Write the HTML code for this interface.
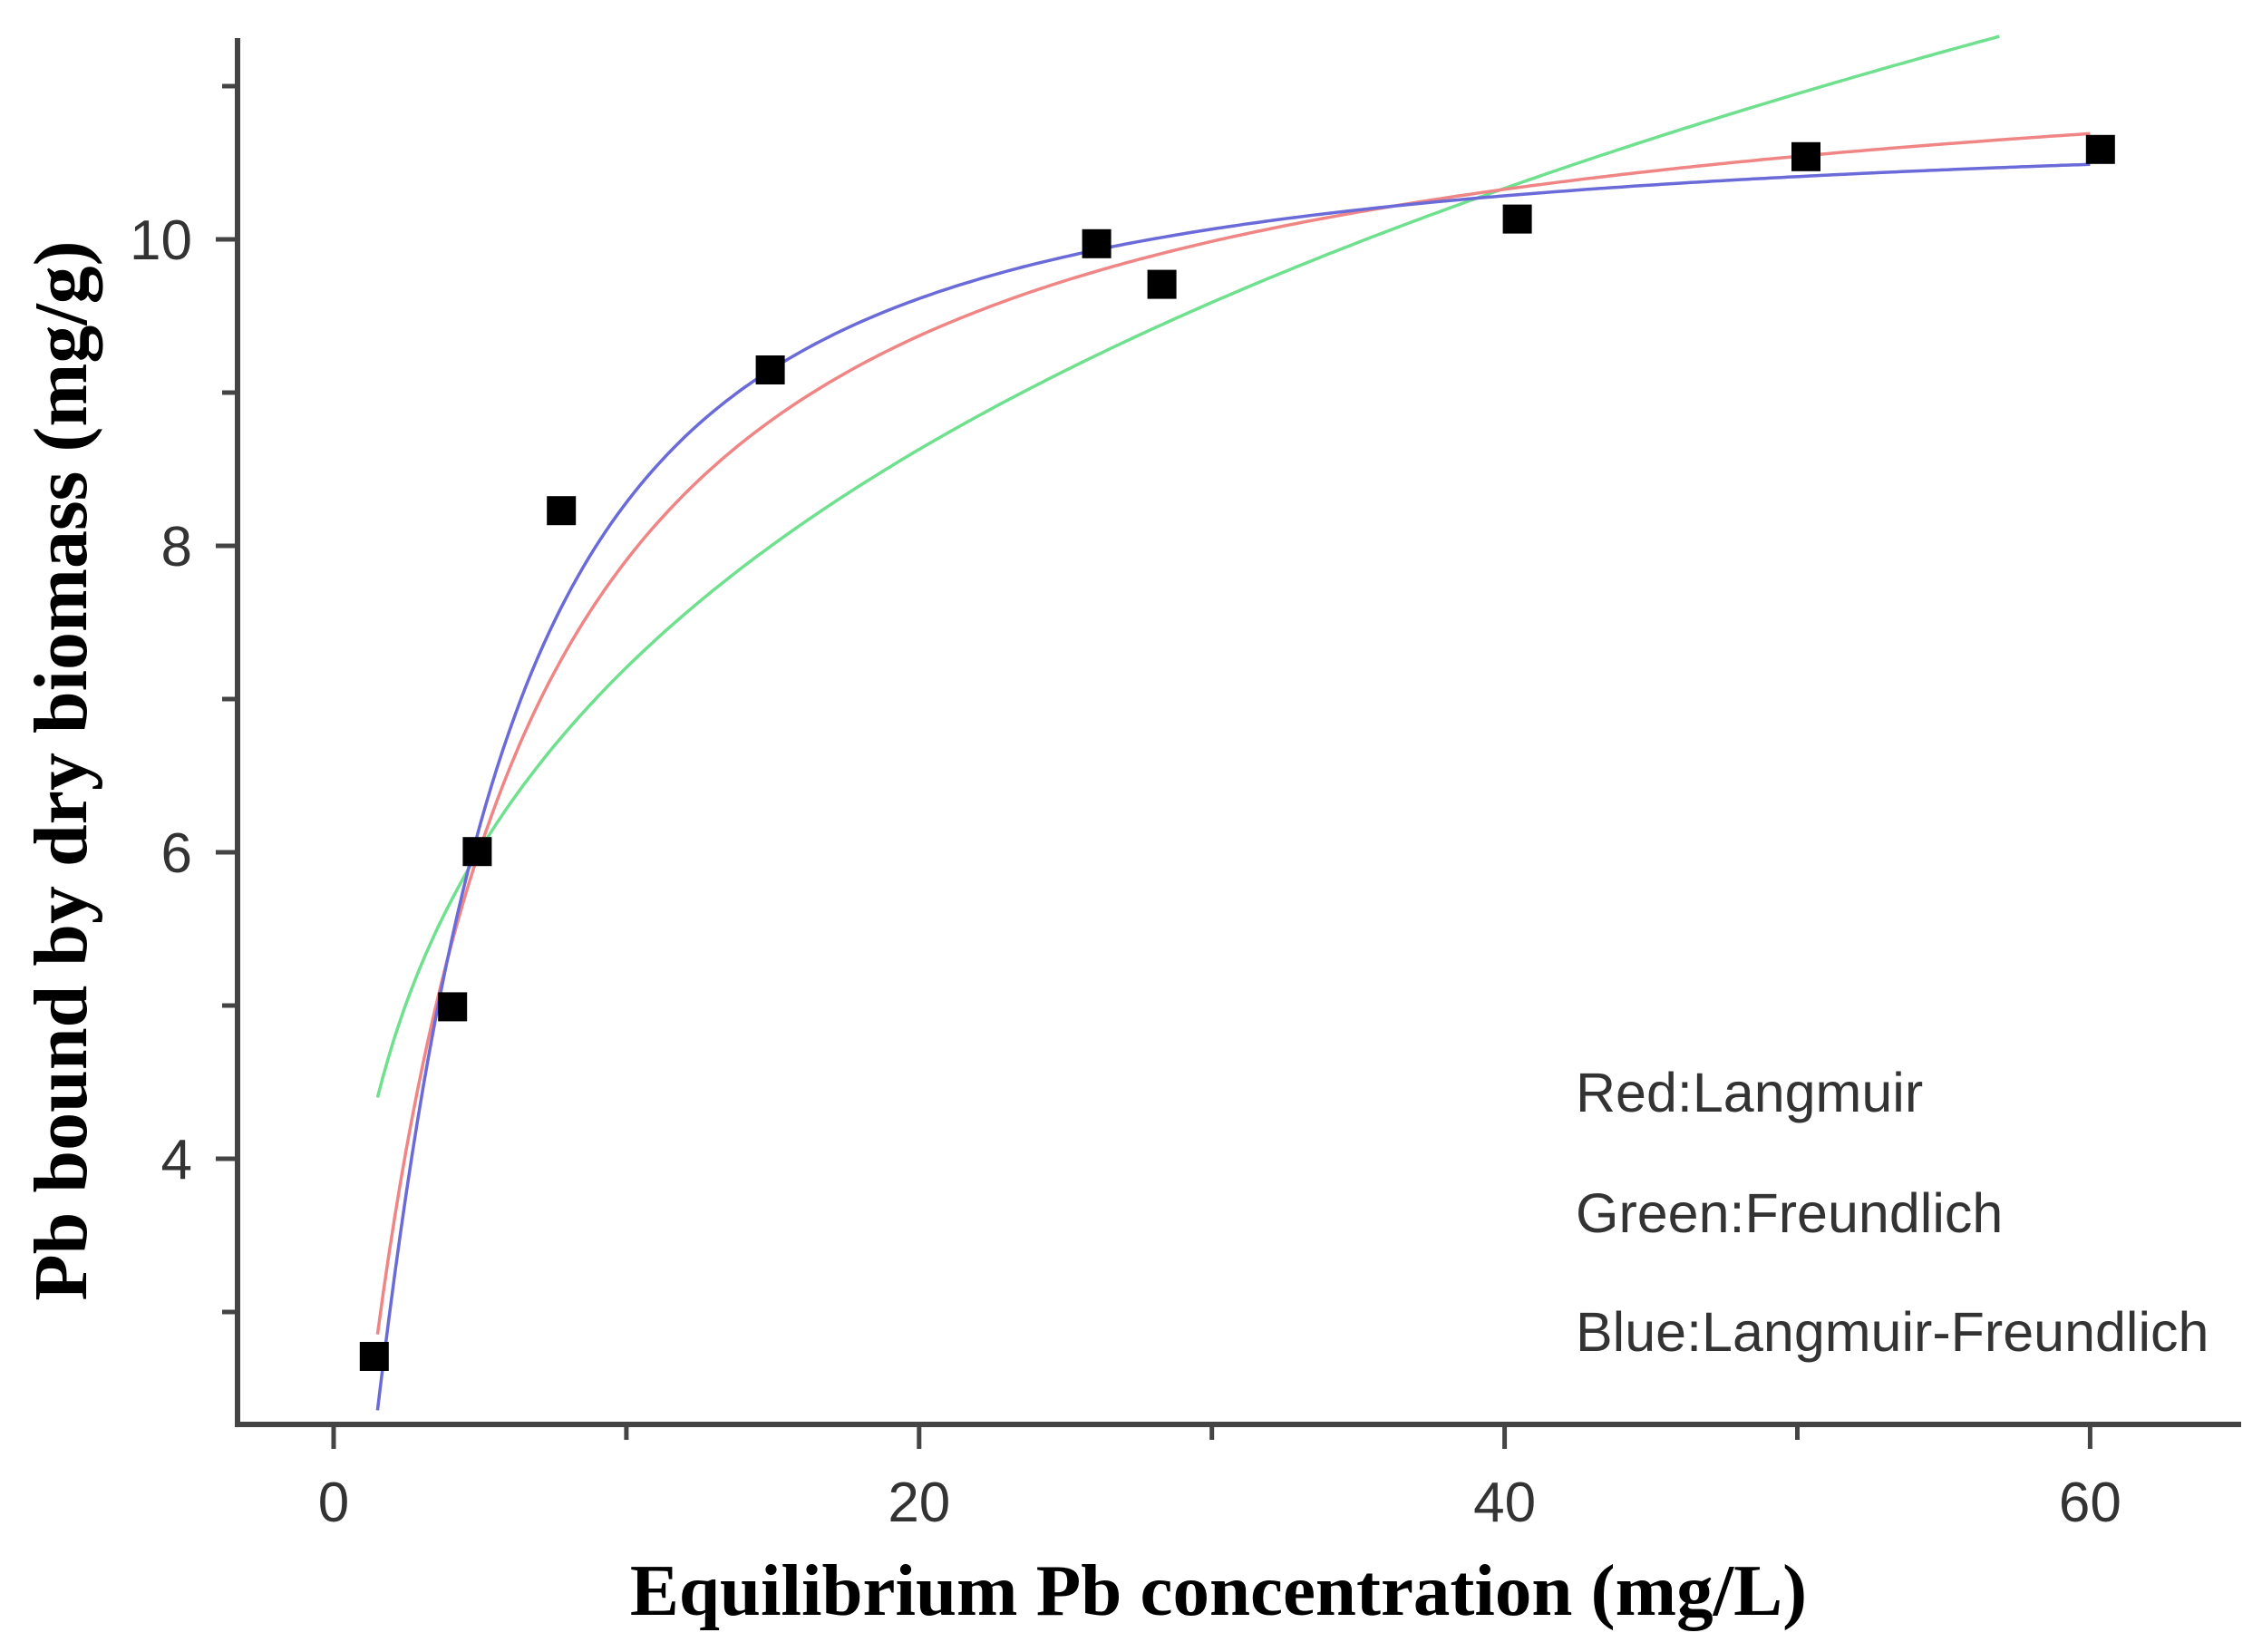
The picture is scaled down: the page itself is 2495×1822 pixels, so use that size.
<!DOCTYPE html>
<html><head><meta charset="utf-8"><style>
html,body{margin:0;padding:0;background:#fff;}
svg{display:block;}
</style></head><body>
<svg id="s" width="2495" height="1822" viewBox="0 0 2495 1822" xmlns="http://www.w3.org/2000/svg">
<rect width="2495" height="1822" fill="#fff"/>
<g stroke="#444" stroke-width="6" fill="none">
<line x1="262" y1="42" x2="262" y2="1574"/>
<line x1="259" y1="1571" x2="2472" y2="1571"/>
</g>
<g stroke="#444" stroke-width="5" id="ticks"></g>
<g font-family="Liberation Sans, Arial, sans-serif" font-size="62" fill="#333" id="labels"></g>
<g id="curves" fill="none" stroke-width="3.5"></g>
<g id="pts" fill="#000"></g>
<g font-family="Liberation Sans, Arial, sans-serif" font-size="61" fill="#333">
<text x="1738" y="1226">Red:Langmuir</text>
<text x="1738" y="1359">Green:Freundlich</text>
<text x="1738" y="1490">Blue:Langmuir-Freundlich</text>
</g>
<text x="1344" y="1781" text-anchor="middle" font-family="Liberation Serif, Times New Roman, serif" font-weight="bold" font-size="81" fill="#000">Equilibrium Pb concentration (mg/L)</text>
<text transform="translate(95,850) rotate(-90)" text-anchor="middle" font-family="Liberation Serif, Times New Roman, serif" font-weight="bold" font-size="84" fill="#000">Pb bound by dry biomass (mg/g)</text>
</svg>
<script>
var NS="http://www.w3.org/2000/svg";
function X(c){return 368+32.29*c;}
function Y(q){return 264+(10-q)*169;}
function el(p,t,a,txt){var e=document.createElementNS(NS,t);for(var k in a)e.setAttribute(k,a[k]);if(txt!==undefined)e.textContent=txt;document.getElementById(p).appendChild(e);}
for(var v=3;v<=11;v++){var maj=(v%2==0);el("ticks","line",{x1:maj?238:245,x2:262,y1:Y(v),y2:Y(v)});
 if(maj)el("labels","text",{x:212,y:Y(v)+22,"text-anchor":"end"},String(v));}
for(var c=0;c<=60;c+=10){var maj=(c%20==0);el("ticks","line",{x1:X(c),x2:X(c),y1:1571,y2:maj?1598:1588});
 if(maj)el("labels","text",{x:X(c),y:1678,"text-anchor":"middle"},String(c));}
function curve(f,c0,c1,col){var d="";for(var i=0;i<=300;i++){var c=c0+(c1-c0)*i/300;d+=(i?"L":"M")+X(c).toFixed(1)+" "+Y(f(c)).toFixed(1);}el("curves","path",{d:d,stroke:col});}
curve(function(c){return 3.96*Math.pow(c,0.26);},1.5,56.9,"#6ee08e");
curve(function(c){return 11.5*0.22*c/(1+0.22*c);},1.5,60,"#f08585");
curve(function(c){var t=Math.pow(0.25*c,1.3);return 10.8*t/(1+t);},1.5,60,"#6a6ad8");
var P=[[258,935],[312,694],[329,587],[387,352],[531,255],[756,168],[801,196],[1046,151],[1245,108],[1448,103]];
P.forEach(function(p){var x=p[0]*1.6,y=p[1]*1.6;el("pts","rect",{x:x-16,y:y-16,width:32,height:32});});
</script>
</body></html>
